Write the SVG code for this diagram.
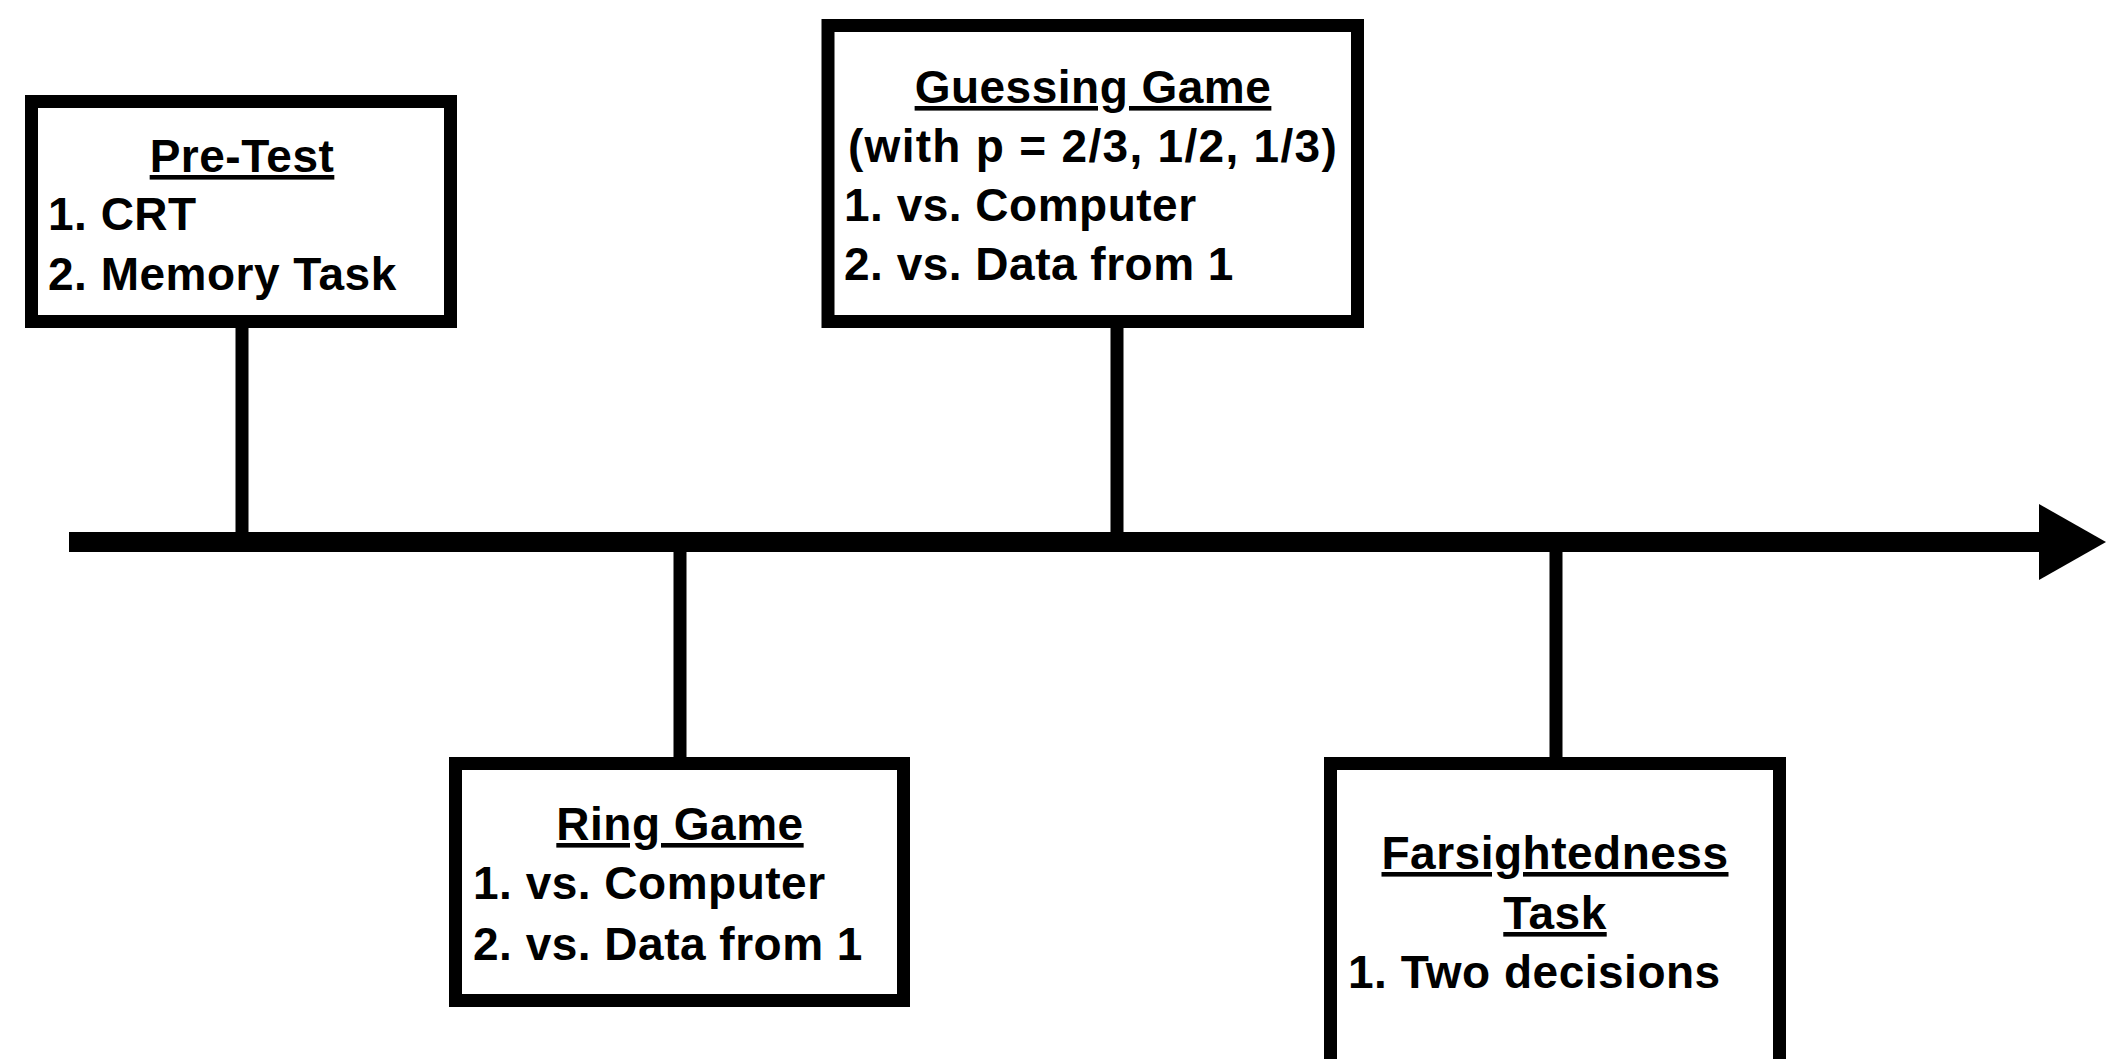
<svg xmlns="http://www.w3.org/2000/svg" width="2106" height="1059" viewBox="0 0 2106 1059">
<style>
.box{fill:#fff;stroke:#000;stroke-width:13}
.t{font-family:"Liberation Sans",Arial,sans-serif;font-weight:bold;font-size:46px;letter-spacing:0.5px;fill:#000}
.h{text-anchor:middle;text-decoration:underline;text-decoration-thickness:2.5px}
.m{text-anchor:middle;letter-spacing:1.3px}
.c{fill:#000}
</style>
<rect width="2106" height="1059" fill="#fff"/>
<g id="connectors">
<rect class="c" x="69" y="532" width="1972" height="20"/>
<polygon class="c" points="2039,504 2106,542 2039,580"/>
<rect class="c" x="235.5" y="322" width="13" height="213"/>
<rect class="c" x="1110.5" y="322" width="13" height="212"/>
<rect class="c" x="673.5" y="550" width="13" height="210"/>
<rect class="c" x="1549.5" y="550" width="13" height="210"/>
</g>
<g id="pretest">
<rect class="box" x="31.5" y="101.5" width="419" height="220"/>
<text class="t h" x="242" y="172">Pre-Test</text>
<text class="t" x="48" y="230">1. CRT</text>
<text class="t" x="48" y="290">2. Memory Task</text>
</g>
<g id="guessing">
<rect class="box" x="828" y="25.5" width="529.5" height="296"/>
<text class="t h" x="1093" y="103">Guessing Game</text>
<text class="t m" x="1093" y="162">(with p = 2/3, 1/2, 1/3)</text>
<text class="t" x="844" y="221">1. vs. Computer</text>
<text class="t" x="844" y="280">2. vs. Data from 1</text>
</g>
<g id="ring">
<rect class="box" x="455.5" y="763.5" width="448" height="237"/>
<text class="t h" x="680" y="840">Ring Game</text>
<text class="t" x="473" y="899">1. vs. Computer</text>
<text class="t" x="473" y="960">2. vs. Data from 1</text>
</g>
<g id="farsightedness">
<rect class="box" x="1330.5" y="763.5" width="449" height="310"/>
<text class="t h" x="1555" y="869">Farsightedness</text>
<text class="t h" x="1555" y="929">Task</text>
<text class="t" x="1348" y="988">1. Two decisions</text>
</g>
</svg>
